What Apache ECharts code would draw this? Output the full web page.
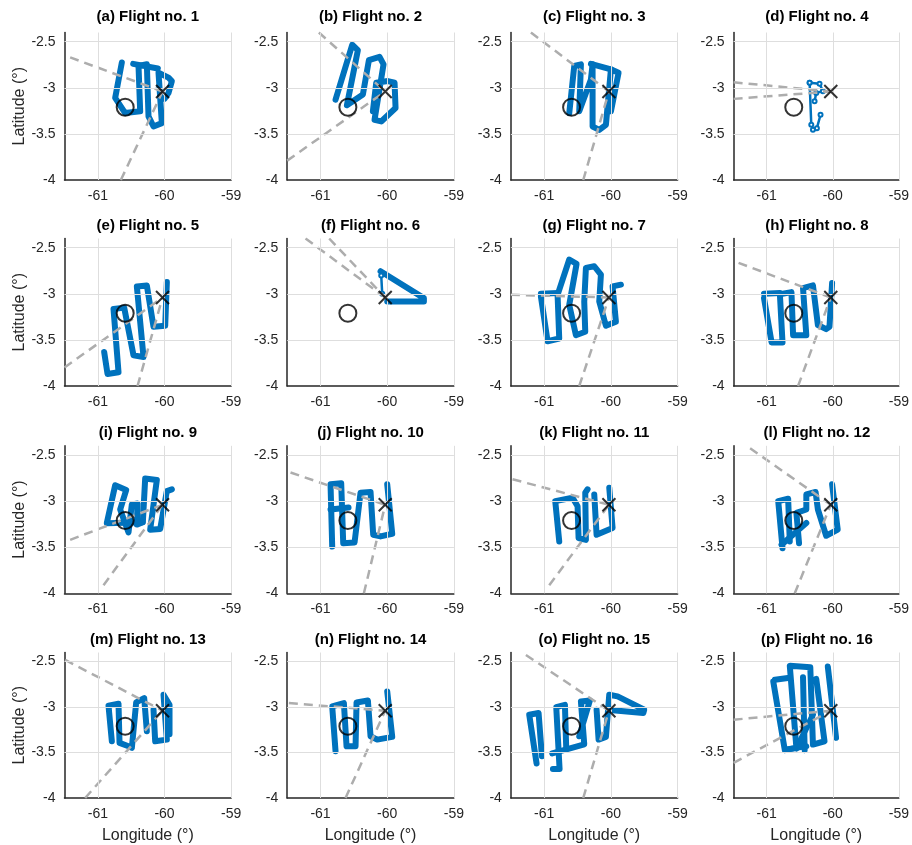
<!DOCTYPE html>
<html><head><meta charset="utf-8">
<script src="https://cdn.jsdelivr.net/npm/echarts@6/dist/echarts.min.js"></script>
<style>html,body{margin:0;padding:0;background:#fff}#c{width:912px;height:845px}</style>
</head><body><div id="c"></div><script>
const flightTitles = ['(a) Flight no. 1','(b) Flight no. 2','(c) Flight no. 3','(d) Flight no. 4',
  '(e) Flight no. 5','(f) Flight no. 6','(g) Flight no. 7','(h) Flight no. 8',
  '(i) Flight no. 9','(j) Flight no. 10','(k) Flight no. 11','(l) Flight no. 12',
  '(m) Flight no. 13','(n) Flight no. 14','(o) Flight no. 15','(p) Flight no. 16'];
const lonGrid = [-61, -60, -59];
const latGrid = [-3.5, -3, -2.5];
const siteCircle = [-60.59, -3.21];
const siteCross = [-60.03, -3.04];

// flight tracks: list of segments, each a list of [lon, lat]
const track01 = [
  [[-60.64,-2.726],[-60.74,-3.109],[-60.59,-3.274],[-60.365,-3.255],[-60.39,-2.763],[-60.265,-2.745],[-60.24,-3.31],[-60.165,-3.42],[-60.04,-3.383],[-60.09,-2.836],[-59.94,-2.89],[-59.89,-2.927],[-59.94,-3.055],[-60.0,-3.12]],
  [[-60.47,-2.74],[-60.1,-2.79]]
];
const track02 = [
  [[-60.775,-3.128],[-60.525,-2.533],[-60.44,-2.591],[-60.605,-3.19],[-60.365,-3.073],[-60.275,-2.70],[-60.115,-2.664],[-60.055,-2.745],[-60.19,-3.347],[-60.09,-3.365],[-59.875,-3.219],[-59.89,-2.945],[-59.99,-2.927],[-60.165,-2.945],[-60.215,-3.255]]
];
const track03 = [
  [[-60.625,-3.274],[-60.55,-2.763],[-60.45,-2.745],[-60.475,-3.255],[-60.30,-2.909],[-60.275,-2.745],[-60.275,-3.42],[-60.175,-3.456],[-60.075,-3.401],[-60.0,-2.80],[-59.885,-2.836],[-60.0,-3.255]],
  [[-60.3,-2.74],[-60.0,-2.8]]
];
const track04 = [
  [[-60.35,-2.945],[-60.325,-3.401]],
  [[-60.35,-2.945],[-60.2,-2.956],[-60.15,-3.036],[-60.25,-3.055],[-60.275,-3.146]],
  [[-60.185,-3.292],[-60.24,-3.438],[-60.30,-3.456]]
];
const track05 = [
  [[-60.905,-3.631],[-60.855,-3.869],[-60.69,-3.85],[-60.765,-3.164],[-60.605,-3.15],[-60.465,-3.668],[-60.315,-3.686],[-60.415,-2.92],[-60.265,-2.909],[-60.165,-3.358],[-59.99,-3.347],[-59.965,-2.872]]
];
const track06 = [
  [[-60.075,-3.0],[-60.09,-2.80]],
  [[-60.1,-2.755],[-59.45,-3.047],[-59.45,-3.084],[-60.0,-3.084]]
];
const track07 = [
  [[-61.05,-3.029],[-60.95,-3.515],[-60.775,-3.485],[-60.80,-3.011],[-60.625,-2.628],[-60.515,-2.675],[-60.625,-3.12],[-60.525,-3.449],[-60.385,-3.412],[-60.40,-3.084],[-60.375,-2.719],[-60.25,-2.701],[-60.15,-2.792],[-60.175,-3.084],[-60.075,-3.347],[-59.925,-3.303],[-59.975,-2.92],[-59.85,-2.901]],
  [[-61.05,-3.0],[-60.8,-2.99]]
];
const track08 = [
  [[-61.04,-3.047],[-60.925,-3.529],[-60.76,-3.529],[-60.80,-3.004],[-60.625,-2.982],[-60.60,-3.449],[-60.40,-3.449],[-60.45,-2.938],[-60.30,-2.909],[-60.225,-3.339],[-60.10,-3.383],[-60.05,-3.358],[-60.01,-2.883]],
  [[-61.04,-3.0],[-60.8,-2.99]]
];
const track09 = [
  [[-60.865,-3.237],[-60.74,-2.828],[-60.575,-2.88],[-60.665,-3.091],[-60.54,-3.339],[-60.49,-3.036],[-60.405,-3.026],[-60.415,-3.255],[-60.325,-3.23],[-60.29,-2.755],[-60.115,-2.77],[-60.215,-3.31],[-60.065,-3.303],[-59.965,-2.891],[-59.89,-2.872]],
  [[-60.86,-3.24],[-60.33,-3.23]]
];
const track10 = [
  [[-60.825,-3.493],[-60.85,-2.818],[-60.69,-2.807],[-60.66,-3.456],[-60.49,-3.449],[-60.40,-2.909],[-60.25,-2.901],[-60.21,-3.365],[-60.10,-3.383],[-59.925,-3.354],[-60.0,-2.818]],
  [[-60.85,-3.09],[-60.58,-3.07]]
];
const track11 = [
  [[-60.775,-3.438],[-60.835,-3.0],[-60.575,-2.964],[-60.50,-3.055],[-60.485,-3.401],[-60.375,-3.42],[-60.385,-2.909],[-60.35,-2.872]],
  [[-60.25,-2.927],[-60.215,-3.365],[-59.975,-3.292],[-60.025,-2.854]]
];
const track12 = [
  [[-60.76,-3.511],[-60.825,-3.0],[-60.675,-2.974],[-60.65,-3.438]],
  [[-60.775,-3.474],[-60.40,-3.237]],
  [[-60.51,-3.456],[-60.55,-3.128],[-60.40,-3.091],[-60.40,-2.927],[-60.26,-2.901],[-60.225,-3.091],[-60.10,-3.376],[-59.925,-3.31],[-60.01,-2.818]]
];
const track13 = [
  [[-60.79,-3.376],[-60.84,-2.985],[-60.69,-2.964],[-60.675,-3.394],[-60.54,-3.431],[-60.49,-3.449],[-60.425,-2.949],[-60.305,-2.901],[-60.265,-3.266]],
  [[-60.165,-3.029],[-60.14,-3.376],[-59.965,-3.358],[-60.015,-2.865],[-59.925,-2.974],[-59.925,-3.3]]
];
const track14 = [
  [[-60.775,-3.485],[-60.825,-2.993],[-60.65,-2.956],[-60.61,-3.431],[-60.475,-3.431],[-60.46,-2.949],[-60.29,-2.927],[-60.25,-3.321],[-60.15,-3.358],[-59.925,-3.328],[-60.0,-2.828]]
];
const track15 = [
  [[-61.115,-3.62],[-61.225,-3.084],[-61.085,-3.066],[-61.035,-3.54]],
  [[-60.87,-3.68],[-60.77,-3.68],[-60.82,-3.0],[-60.69,-2.975],[-60.67,-3.46]],
  [[-60.88,-3.51],[-60.40,-3.41],[-60.45,-2.938],[-60.315,-2.927],[-60.475,-3.321]],
  [[-60.215,-3.029],[-60.185,-3.358],[-60.075,-3.328],[-60.025,-2.865],[-59.90,-2.883],[-59.50,-3.029],[-59.515,-3.066],[-59.975,-3.036]]
];
const track16 = [
  [[-60.90,-2.719],[-60.725,-3.474],[-60.55,-3.449],[-60.65,-2.547],[-60.34,-2.562],[-60.30,-3.412],[-60.125,-3.376],[-60.25,-2.69]],
  [[-60.45,-2.672],[-60.425,-3.474]],
  [[-60.075,-2.555],[-59.95,-3.339]],
  [[-60.55,-3.456],[-60.30,-3.084]],
  [[-60.875,-2.70],[-60.68,-2.68]],
  [[-60.72,-3.47],[-60.40,-3.43]]
];

// far ends of the dashed grey lines that meet at the cross
const dash01 = [[-61.415,-2.67],[-60.655,-4.0]];
const dash02 = [[-61.025,-2.40],[-61.5,-3.79]];
const dash03 = [[-61.2,-2.40],[-60.415,-4.0]];
const dash04 = [[-61.5,-2.94],[-61.5,-3.12]];
const dash05 = [[-61.5,-3.80],[-60.405,-4.0]];
const dash06 = [[-61.225,-2.40],[-60.87,-2.40]];
const dash07 = [[-61.5,-3.01],[-60.475,-4.0]];
const dash08 = [[-61.425,-2.664],[-60.525,-4.0]];
const dash09 = [[-61.415,-3.42],[-60.915,-3.912]];
const dash10 = [[-61.45,-2.69],[-60.35,-4.0]];
const dash11 = [[-61.475,-2.763],[-60.925,-3.912]];
const dash12 = [[-61.25,-2.427],[-60.575,-4.0]];
const dash13 = [[-61.49,-2.482],[-61.19,-4.0]];
const dash14 = [[-61.475,-2.956],[-60.625,-4.0]];
const dash15 = [[-61.275,-2.427],[-60.415,-4.0]];
const dash16 = [[-61.5,-3.139],[-61.5,-3.613]];

const tracks = [track01,track02,track03,track04,track05,track06,track07,track08,track09,track10,track11,track12,track13,track14,track15,track16];
const dashes = [dash01,dash02,dash03,dash04,dash05,dash06,dash07,dash08,dash09,dash10,dash11,dash12,dash13,dash14,dash15,dash16];

// layout / style (not data)
const colLeft = [64.5, 287.2, 510.9, 733.6];
const rowTop = [32.5, 238.5, 445.8, 652.5];
const W = 166.7, H = 147.5;
const thinSegs = {3:[0,1,2], 5:[0]};
const BLUE = '#0072BD', FONT = '"Liberation Sans", Arial, sans-serif', TXT = '#262626';

const isHalf = v => Math.abs(v*2 - Math.round(v*2)) < 1e-6;
const isInt = v => Math.abs(v - Math.round(v)) < 1e-6;

const grid = [], xAxis = [], yAxis = [], series = [], title = [];
for (let i = 0; i < 16; i++) {
  const r = Math.floor(i/4), c = i % 4;
  grid.push({left: colLeft[c], top: rowTop[r], width: W, height: H, containLabel: false});
  title.push({text: flightTitles[i], left: colLeft[c] + W/2, top: [9, 218.5, 425, 632.5][r], textAlign: 'center', padding: 0,
    textStyle: {fontSize: 15, fontWeight: 'bold', color: '#000', fontFamily: FONT}});
  xAxis.push({type: 'value', gridIndex: i, min: -61.5, max: -59, interval: 0.5,
    name: r === 3 ? 'Longitude (°)' : '', nameLocation: 'middle', nameGap: 30,
    nameTextStyle: {fontSize: 16, color: TXT, fontFamily: FONT},
    axisLine: {show: true, onZero: false, lineStyle: {color: TXT, width: 1.5}},
    axisTick: {show: false}, splitLine: {show: false},
    axisLabel: {fontSize: 14, color: TXT, fontFamily: FONT, margin: 9, hideOverlap: false,
      formatter: v => isInt(v) && v > -61.4 ? String(Math.round(v)) : ''}});
  yAxis.push({type: 'value', gridIndex: i, min: -4, max: -2.4, interval: 0.5,
    name: c === 0 ? 'Latitude (°)' : '', nameLocation: 'middle', nameGap: 37, nameRotate: 90,
    nameTextStyle: {fontSize: 16, color: TXT, fontFamily: FONT},
    axisLine: {show: true, onZero: false, lineStyle: {color: TXT, width: 1.5}},
    axisTick: {show: false}, splitLine: {show: false},
    axisLabel: {fontSize: 14, color: TXT, fontFamily: FONT, margin: 9, hideOverlap: false, showMaxLabel: false,
      formatter: v => isHalf(v) && v < -2.45 ? String(v) : ''}});
  // grid lines
  series.push({type: 'line', xAxisIndex: i, yAxisIndex: i, data: [siteCross], symbol: 'none', lineStyle: {width: 0}, silent: true, z: 1,
    markLine: {silent: true, symbol: ['none','none'], label: {show: false}, animation: false,
      lineStyle: {color: '#dedede', width: 1, type: 'solid'},
      data: lonGrid.map(v => ({xAxis: v})).concat(latGrid.map(v => ({yAxis: v})))}});
  // tracks
  tracks[i].forEach((seg, s) => {
    const thin = thinSegs[i] && thinSegs[i].includes(s);
    series.push({type: 'line', xAxisIndex: i, yAxisIndex: i, data: seg, z: 3, silent: true,
      showSymbol: thin, symbol: 'emptyCircle', symbolSize: 4,
      itemStyle: {color: BLUE, borderWidth: 1.2},
      lineStyle: {color: BLUE, width: thin ? 2.5 : 6, cap: 'round', join: 'round'}});
  });
  // dashed lines
  dashes[i].forEach(p => {
    series.push({type: 'line', xAxisIndex: i, yAxisIndex: i, data: [p, siteCross], z: 4, silent: true, showSymbol: false,
      lineStyle: {color: '#adadad', width: 2.5, type: [9, 6]}});
  });
  // markers
  series.push({type: 'scatter', xAxisIndex: i, yAxisIndex: i, data: [siteCircle], z: 5, silent: true,
    symbol: 'circle', symbolSize: 17, itemStyle: {color: 'rgba(0,0,0,0)', borderColor: '#000', borderWidth: 2}});
  series.push({type: 'scatter', xAxisIndex: i, yAxisIndex: i, data: [siteCross], z: 5, silent: true,
    symbol: 'path://M0,0L10,10M10,0L0,10', symbolSize: 13, itemStyle: {color: 'rgba(0,0,0,0)', borderColor: '#000', borderWidth: 2}});
}

const chart = echarts.init(document.getElementById('c'), null, {renderer: 'canvas'});
chart.setOption({backgroundColor: '#fff', animation: false, title, grid, xAxis, yAxis, series});
</script></body></html>
